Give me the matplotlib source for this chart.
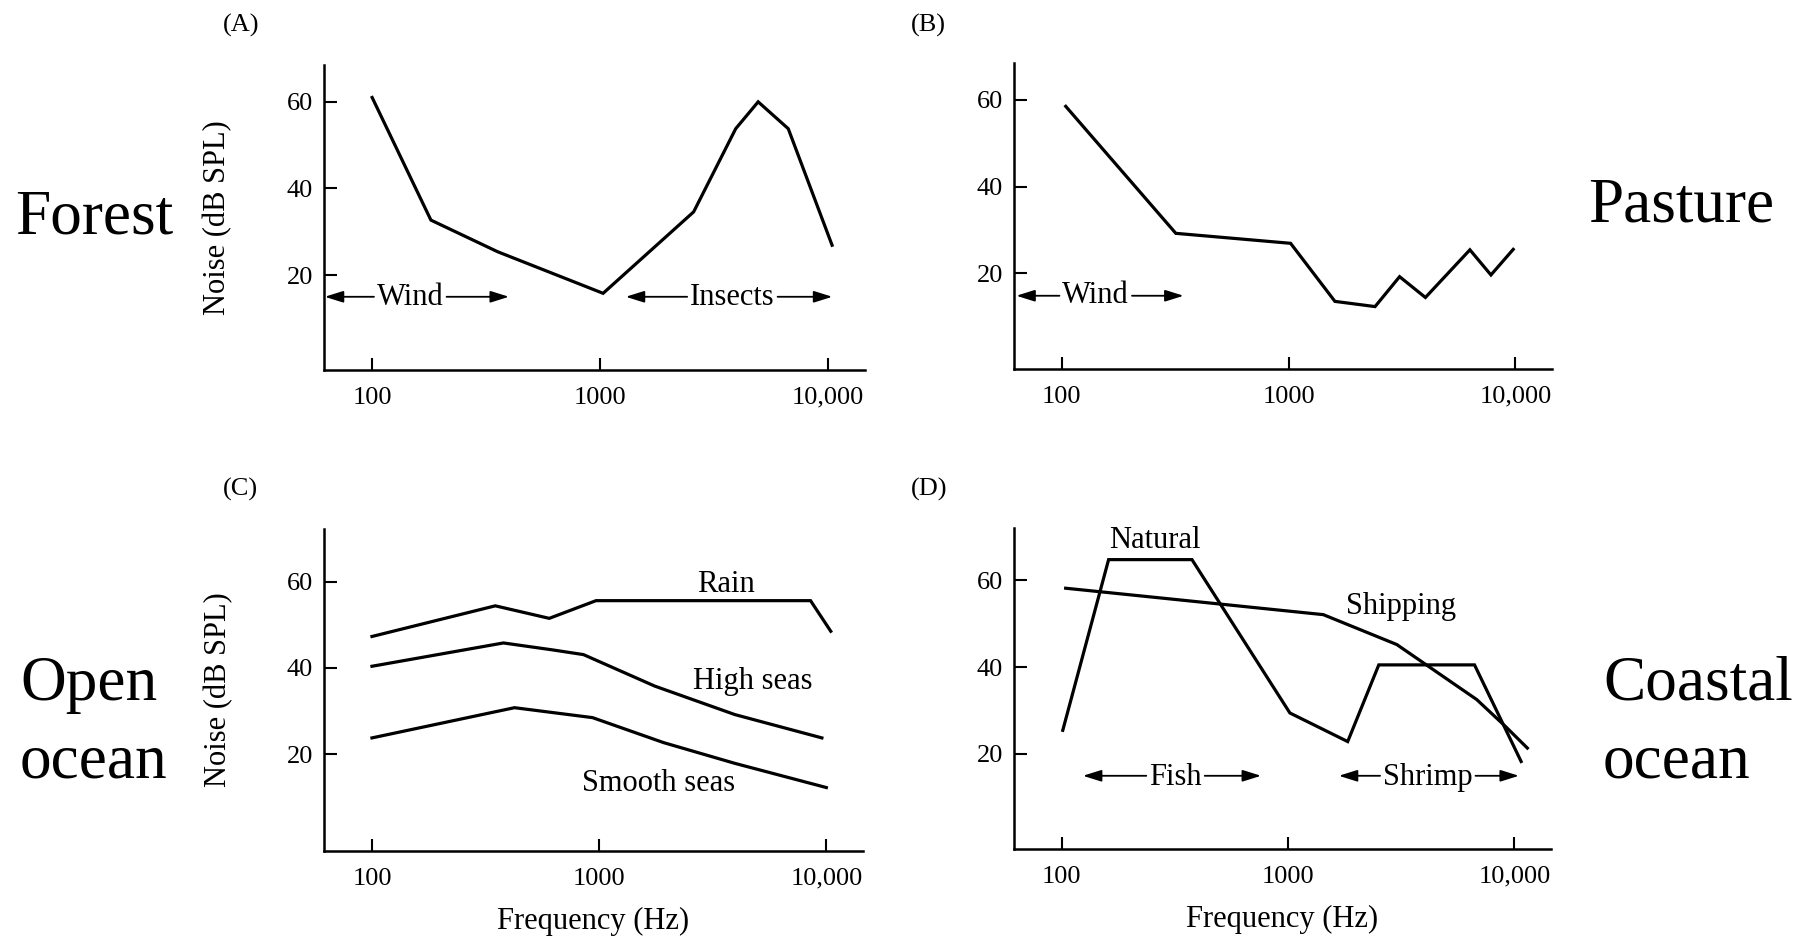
import matplotlib
matplotlib.use("Agg")
import matplotlib.pyplot as plt

# (A) forest
forest_freq = [100, 181, 355, 1030, 2570, 3930, 4930, 6680, 10400]
forest_db = [61, 32.7, 25.4, 15.8, 34.6, 53.8, 60, 53.8, 26.9]

# (B) pasture
pasture_freq = [104, 318, 1020, 1600, 2405, 3085, 4010, 6300, 7800, 9780]
pasture_db = [58.5, 29.2, 26.9, 13.5, 12.3, 19.2, 14.4, 25.4, 19.6, 25.5]

# (C) open ocean
rain_freq = [100, 349, 603, 969, 8520, 10460]
rain_db = [47.3, 54.4, 51.5, 55.6, 55.6, 48.5]
high_freq = [100, 379, 622, 853, 1758, 3960, 9560]
high_db = [40.4, 45.8, 44.2, 43.1, 35.8, 29.2, 23.8]
smooth_freq = [100, 424, 935, 1924, 3960, 10000]
smooth_db = [23.8, 30.8, 28.5, 22.7, 17.9, 12.3]

# (D) coastal ocean
natural_freq = [101, 161, 376, 1018, 1833, 2515, 6660, 10700]
natural_db = [25.4, 64.8, 64.8, 29.4, 22.8, 40.5, 40.5, 18.2]
shipping_freq = [104, 1430, 3020, 6810, 9120, 11400]
shipping_db = [58.2, 52.1, 45.2, 32.5, 26.3, 21.3]

x_ticks = [100, 1000, 10000]
x_tick_labels = ["100", "1000", "10,000"]
y_ticks = [20, 40, 60]

# curve labels: text, x centre, baseline
curve_labels_c = [("Rain", 3620, 57.7), ("High seas", 4750, 35.2), ("Smooth seas", 1820, 11.5)]
curve_labels_d = [("Natural", 259, 67.5), ("Shipping", 3160, 52.3)]

# range labels with arrows: text, x centre, baseline, arrow y, left end, right end
ranges_a = [("Wind", 147, 13.1, 15.0, 62, 398), ("Insects", 3800, 13.1, 15.0, 1295, 10420)]
ranges_b = [("Wind", 141, 13.1, 14.8, 63, 344)]
ranges_d = [("Fish", 318, 12.8, 14.9, 124, 759), ("Shrimp", 4140, 12.8, 14.9, 1675, 10460)]

plt.rcParams["font.family"] = ["Liberation Serif", "DejaVu Serif"]

W, H = 1810, 940
fig = plt.figure(figsize=(W / 100, H / 100), dpi=100)


def px_rect(left, top, right, bottom):
    return [left / W, 1 - bottom / H, (right - left) / W, (bottom - top) / H]


ax_a = fig.add_axes(px_rect(324, 65, 865, 370))
ax_b = fig.add_axes(px_rect(1014, 63, 1552, 369))
ax_c = fig.add_axes(px_rect(324, 529, 863, 851))
ax_d = fig.add_axes(px_rect(1014, 528, 1551, 849))

line_kw = dict(color="black", lw=2.3, solid_joinstyle="miter")

ax_a.plot(forest_freq, forest_db, **line_kw)
ax_b.plot(pasture_freq, pasture_db, **line_kw)
ax_c.plot(rain_freq, rain_db, **line_kw)
ax_c.plot(high_freq, high_db, **line_kw)
ax_c.plot(smooth_freq, smooth_db, **line_kw)
ax_d.plot(natural_freq, natural_db, **line_kw)
ax_d.plot(shipping_freq, shipping_db, **line_kw)

ylims = {ax_a: (-1.9, 68.5), ax_b: (-2.1, 68.5), ax_c: (-2.4, 72.2), ax_d: (-2.0, 72.1)}

for ax in (ax_a, ax_b, ax_c, ax_d):
    ax.set_xscale("log")
    ax.set_xlim(61.5, 14500)
    ax.set_ylim(*ylims[ax])
    ax.set_xticks(x_ticks)
    ax.set_xticklabels(x_tick_labels)
    ax.minorticks_off()
    ax.set_yticks(y_ticks)
    ax.spines["top"].set_visible(False)
    ax.spines["right"].set_visible(False)
    for s in ("left", "bottom"):
        ax.spines[s].set_linewidth(1.8)
    ax.tick_params(axis="both", direction="in", length=9, width=1.5, labelsize=19)
    ax.tick_params(axis="x", pad=12)
    ax.tick_params(axis="y", pad=8)

for ax in (ax_a, ax_c):
    ax.set_ylabel("Noise (dB SPL)", fontsize=22)
    ax.yaxis.set_label_coords(-0.169, 0.5)
for ax in (ax_c, ax_d):
    ax.set_xlabel("Frequency (Hz)", fontsize=22)
    ax.xaxis.set_label_coords(0.5, -0.175)

for text, x, y in curve_labels_c:
    ax_c.text(x, y, text, ha="center", va="baseline", fontsize=22)
for text, x, y in curve_labels_d:
    ax_d.text(x, y, text, ha="center", va="baseline", fontsize=22)

range_texts = []
for ax, ranges in ((ax_a, ranges_a), (ax_b, ranges_b), (ax_d, ranges_d)):
    for text, x, y, ya, left, right in ranges:
        t = ax.text(x, y, text, ha="center", va="baseline", fontsize=22)
        range_texts.append((ax, t, ya, left, right))

# panel letters
for letter, xp, yp in (("(A)", 223, 25), ("(B)", 911, 25), ("(C)", 223, 489), ("(D)", 911, 489)):
    fig.text(xp / W, 1 - yp / H, letter, ha="left", va="center", fontsize=19)

# habitat names beside the panels (left x, first baseline)
for name, xp, yp in (("Forest", 15, 233), ("Pasture", 1588, 221),
                     ("Open\nocean", 20, 700), ("Coastal\nocean", 1603, 700)):
    for i, part in enumerate(name.split("\n")):
        fig.text(xp / W, 1 - (yp + 77 * i) / H, part, ha="left", va="baseline", fontsize=45.5)

# arrows either side of the range labels
fig.canvas.draw()
renderer = fig.canvas.get_renderer()
arrow_kw = dict(arrowstyle="-|>,head_length=0.7,head_width=0.22", color="black",
                lw=1.3, shrinkA=0, shrinkB=0, mutation_scale=16)
for ax, t, ya, left, right in range_texts:
    bb = t.get_window_extent(renderer)
    inv = ax.transData.inverted()
    x0 = inv.transform((bb.x0, bb.y0))[0]
    x1 = inv.transform((bb.x1, bb.y0))[0]
    ax.annotate("", xy=(left, ya), xytext=(x0 / 1.03, ya), arrowprops=arrow_kw)
    ax.annotate("", xy=(right, ya), xytext=(x1 * 1.03, ya), arrowprops=arrow_kw)

fig.savefig("out.png", dpi=100, facecolor="white")
